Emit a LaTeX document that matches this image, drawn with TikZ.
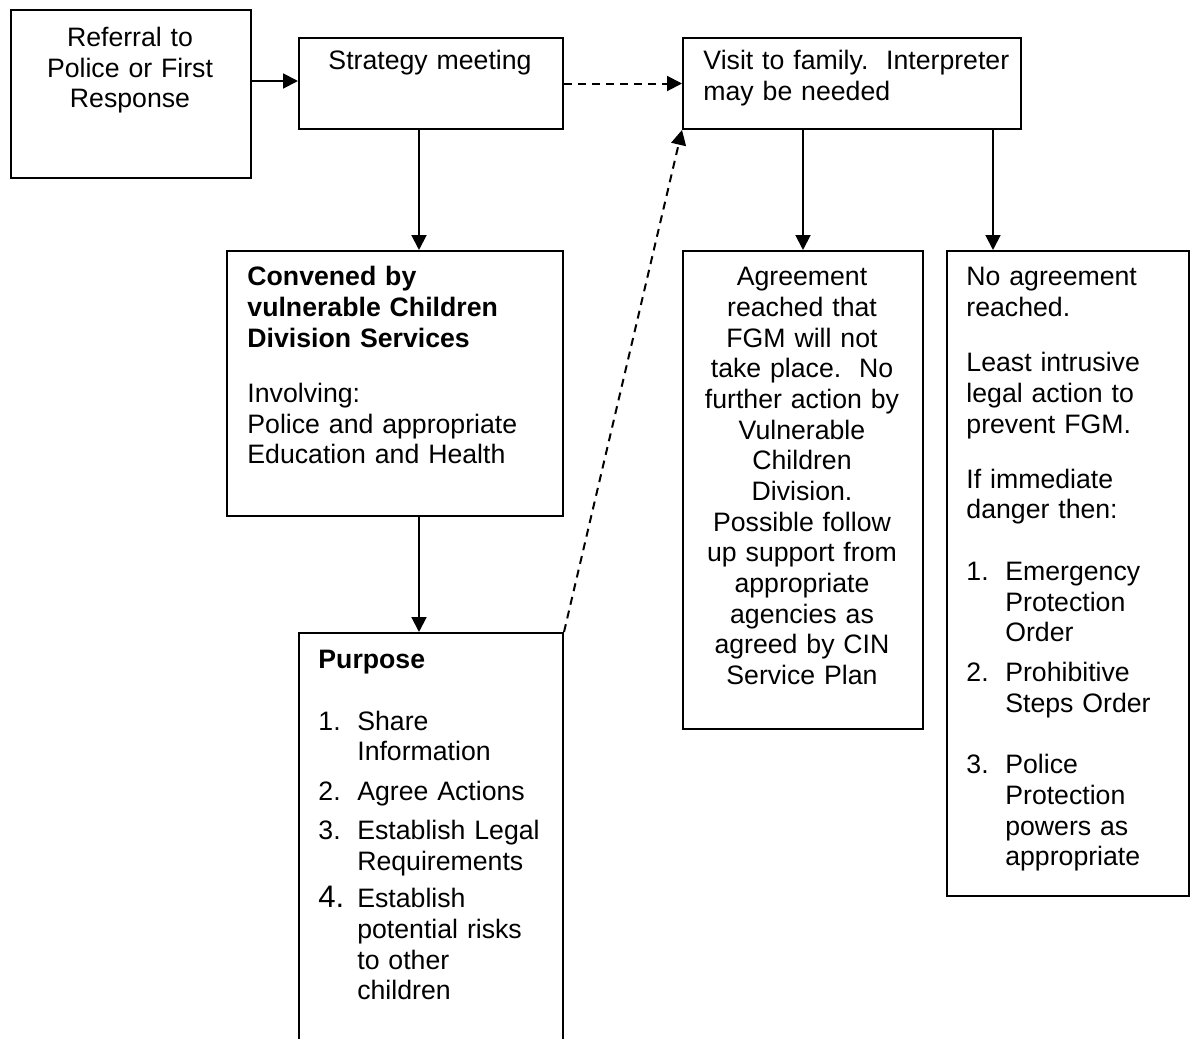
\documentclass[tikz,border=0pt]{standalone}
\usepackage{fontspec}
\setmainfont{Liberation Sans}
\usetikzlibrary{arrows.meta}
\newcommand{\listnum}[1]{\makebox[17.5pt][l]{#1.}}
\newcommand{\listind}{\hspace*{17.5pt}}

\begin{document}
\begin{tikzpicture}[x=0.45pt, y=-0.45pt,
  box/.style={draw, line width=0.9pt, anchor=north west, inner sep=0pt},
  txt/.style={inner sep=0pt, font=\fontsize{12}{13.8}\selectfont},
  ltxt/.style={txt, anchor=north west, align=left, text width=#1},
  ctxt/.style={txt, anchor=north, align=center, text width=#1},
  arr/.style={line width=0.9pt, -{Triangle[length=6.7pt,width=6.7pt]}},
  dasharr/.style={arr, dash pattern=on 3.6pt off 2.7pt}]

\useasboundingbox (0,0) rectangle (1190,1039);
\clip (0,0) rectangle (1190,1039);

% Boxes
\node[box, minimum width=108pt, minimum height=75.6pt] (ref) at (10,9) {};
\node[box, minimum width=118.8pt, minimum height=40.95pt] (strat) at (298,37) {};
\node[box, minimum width=152.1pt, minimum height=40.95pt] (visit) at (682,37) {};
\node[box, minimum width=151.2pt, minimum height=119.25pt] (conv) at (226,250) {};
\node[box, minimum width=118.8pt, minimum height=192.6pt] (purp) at (298,632) {};
\node[box, minimum width=108pt, minimum height=215.1pt] (agree) at (682,250) {};
\node[box, minimum width=108.9pt, minimum height=290.25pt] (noagr) at (946,250) {};

% Texts
\node[ctxt=100pt] (ref-txt) at (130,24.5) {\strut Referral to\\ Police or First\\ Response};
\node[ctxt=115pt] (strat-txt) at (430,48) {\strut Strategy meeting};
\node[ltxt=140pt] (visit-txt) at (703,48) {\strut Visit to family.~~Interpreter\\ may be needed};
\node[ltxt=135pt] (conv-txt) at (247,264) {\strut{\bfseries Convened by\\ vulnerable Children\\ Division Services}\\[11pt]
  Involving:\\ Police and appropriate\\ Education and Health};
\node[ltxt=105pt] (purp-txt) at (318,646.5) {\strut{\bfseries Purpose}\\[14pt]
  \listnum{1}Share\\ \listind Information\\[4pt]
  \listnum{2}Agree Actions\\[4pt]
  \listnum{3}Establish Legal\\ \listind Requirements\\[3pt]
  \makebox[17.5pt][l]{\fontsize{14}{13.8}\selectfont 4.}Establish\\ \listind potential risks\\ \listind to other\\ \listind children};
\node[ctxt=105pt] (agree-txt) at (802,264) {\strut Agreement\\ reached that\\ FGM will not\\ take place.~~No\\
  further action by\\ Vulnerable\\ Children\\ Division.\\ Possible follow\\ up support from\\
  appropriate\\ agencies as\\ agreed by CIN\\ Service Plan};
\node[ltxt=95pt] (noagr-txt) at (966,264) {\strut No agreement\\ reached.\\[11pt]
  Least intrusive\\ legal action to\\ prevent FGM.\\[11pt]
  If immediate\\ danger then:\\[14pt]
  \listnum{1}Emergency\\ \listind Protection\\ \listind Order\\[4pt]
  \listnum{2}Prohibitive\\ \listind Steps Order\\[14pt]
  \listnum{3}Police\\ \listind Protection\\ \listind powers as\\ \listind appropriate};

% Connectors
\coordinate (spine) at (419,0);
\coordinate (rbranch) at (993,0);
\coordinate (toprow) at (0,81);
\draw[arr] (ref.east |- toprow) -- (strat.west |- toprow);
\draw[dasharr] (strat.east) -- (visit.west);
\draw[arr] (strat.south -| spine) -- (conv.north -| spine);
\draw[arr] (conv.south -| spine) -- (purp.north -| spine);
\draw[dasharr] (purp.north east) -- (visit.south west);
\draw[arr] (visit.south -| agree.north) -- (agree.north);
\draw[arr] (visit.south -| rbranch) -- (noagr.north -| rbranch);

\end{tikzpicture}
\end{document}
